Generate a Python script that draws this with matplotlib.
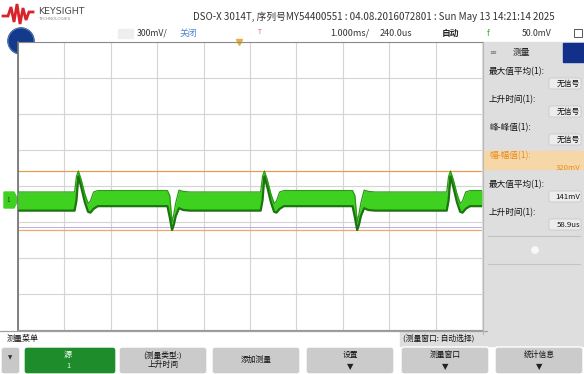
import numpy as np
import matplotlib
matplotlib.use("Agg")
import matplotlib.pyplot as plt
from matplotlib.patches import Circle, FancyBboxPatch, Rectangle, Polygon

plt.rcParams["font.family"] = ["Noto Sans CJK SC", "DejaVu Sans"]

# ─── SCOPE SETTINGS ──────────────────────────────────────────────────────────
TIME_PER_DIV_MS = 1.0
VOLT_PER_DIV_MV = 300.0
N_XDIV, N_YDIV = 10, 8

# ─── CHANNEL 1 TRACE (persistence envelope) ─────────────────────────────────
T_MS = [0.00, 1.22, 1.26, 1.30, 1.36, 1.44, 1.51, 1.56, 1.63, 1.72,
        3.22, 3.27, 3.32, 3.36, 3.40, 3.47, 3.56, 3.70,
        5.23, 5.27, 5.31, 5.37, 5.45, 5.52, 5.57, 5.64, 5.73,
        7.21, 7.26, 7.31, 7.35, 7.39, 7.46, 7.55, 7.69,
        9.24, 9.28, 9.32, 9.38, 9.46, 9.53, 9.58, 9.65, 9.74,
        10.00]
V_UPPER_MV = [-50, -50, 80, 125, 55, -65, -145, -125, -50, -38,
              -38, -80, -300, -230, -140, -35, -45, -50,
              -50, 80, 125, 55, -65, -145, -125, -50, -38,
              -38, -80, -300, -230, -140, -35, -45, -50,
              -50, 80, 125, 55, -65, -145, -125, -50, -38,
              -38]
V_LOWER_MV = [-205, -205, -120, 80, -5, -135, -215, -222, -190, -168,
              -168, -260, -367, -320, -250, -185, -200, -205,
              -205, -120, 80, -5, -135, -215, -222, -190, -168,
              -168, -260, -367, -320, -250, -185, -200, -205,
              -205, -120, 80, -5, -135, -215, -222, -190, -168,
              -168]

# ─── MEASUREMENT PANEL TEXT ─────────────────────────────────────────────────
MEAS_LABELS = ["最大值平均(1):", "上升时间(1):", "峰-峰值(1):",
               "幅-幅值(1):", "最大值平均(1):", "上升时间(1):"]
MEAS_VALUES = ["无信号", "无信号", "无信号", "320mV", "141mV", "58.9us"]
SOFTKEYS = ["(测量类型:)\n上升时间", "添加测量", "设置", "测量窗口", "统计信息"]

W, H = 584, 374
fig = plt.figure(figsize=(W / 100, H / 100), dpi=100)
fig.patch.set_facecolor("white")

# decoration layer in pixel coordinates
deco = fig.add_axes([0, 0, 1, 1])
deco.set_xlim(0, W)
deco.set_ylim(H, 0)
deco.axis("off")

# ─── GRATICULE ──────────────────────────────────────────────────────────────
gx0, gx1, gy0, gy1 = 18, 482, 42, 330
ax = fig.add_axes([gx0 / W, 1 - gy1 / H, (gx1 - gx0) / W, (gy1 - gy0) / H])
ax.set_zorder(2)
ax.set_xlim(0, N_XDIV * TIME_PER_DIV_MS)
half = N_YDIV / 2 * VOLT_PER_DIV_MV
ax.set_ylim(-half, half)
ax.set_xticks(np.arange(0, N_XDIV + 1) * TIME_PER_DIV_MS)
ax.set_yticks(np.arange(-N_YDIV / 2, N_YDIV / 2 + 1) * VOLT_PER_DIV_MV)
ax.grid(True, color="#d4d4d4", lw=0.8)
ax.set_axisbelow(True)
ax.tick_params(length=0, labelleft=False, labelbottom=False)
ax.spines["right"].set_visible(False)
ax.spines["left"].set_color("#6e6e6e")
ax.spines["left"].set_linewidth(1.2)
ax.spines["top"].set_color("#8a8a8a")
ax.spines["bottom"].set_color("#9a9a9a")

# measurement markers at the trace extremes
v_max, v_min = max(V_UPPER_MV), min(V_LOWER_MV)
ax.axhline(v_max, color="#e0a050", lw=0.9, zorder=1.5)
ax.axhline(v_min + 25, color="#b8b0e0", lw=0.7, zorder=1.5)
ax.axhline(v_min, color="#eda870", lw=0.9, zorder=1.5)

ax.fill_between(T_MS, V_LOWER_MV, V_UPPER_MV, color="#3fd11f", lw=0, zorder=3)
ax.plot(T_MS, V_UPPER_MV, color="#2a9a16", lw=0.9, zorder=3)
ax.plot(T_MS, V_LOWER_MV, color="#1c7410", lw=1.6, zorder=3)

# trigger position marker
ax.plot([5.0 - 0.24], [half], marker="v", color="#e8b040", ms=5, clip_on=False)

# ─── HEADER ─────────────────────────────────────────────────────────────────
logo_x = [3, 8, 11, 14, 17, 20, 23, 26, 29, 33]
logo_y = [16, 16, 7, 22, 4, 24, 8, 20, 12, 12]
deco.plot(logo_x, logo_y, color="#d8232a", lw=2.0, solid_joinstyle="miter")
deco.text(38, 11, "KEYSIGHT", fontsize=6.8, color="#4a4a4a", va="center",
          family="DejaVu Sans")
deco.text(38, 19, "TECHNOLOGIES", fontsize=3.0, color="#8a8a8a", va="center",
          family="DejaVu Sans")
deco.text(193, 17, "DSO-X 3014T, 序列号MY54400551 : 04.08.2016072801 : Sun May 13 14:21:14 2025",
          fontsize=7.0, color="#333333", va="center")

deco.add_patch(Rectangle((118, 29), 15, 9, color="#eeeeee"))
deco.text(137, 33, "300mV/", fontsize=6.3, color="#333333", va="center")
deco.text(180, 33, "关闭", fontsize=6.3, color="#4d7fd0", va="center")
deco.text(260, 32, "T", fontsize=4.5, color="#e05080", va="center", ha="center")
deco.text(330, 33, "1.000ms/", fontsize=6.5, color="#333333", va="center")
deco.text(380, 33, "240.0us", fontsize=6.5, color="#333333", va="center")
deco.text(442, 33, "自动", fontsize=6.3, color="#222222", va="center",
          fontweight="bold")
deco.text(487, 33, "f", fontsize=6.3, color="#3ba83b", va="center")
deco.text(522, 33, "50.0mV", fontsize=6.3, color="#333333", va="center")
deco.add_patch(Rectangle((574, 29), 8, 8, fill=False, ec="#555555", lw=0.7))

deco.add_patch(Circle((21, 41), 13, color="#143a8c", zorder=5))
deco.add_patch(Circle((21, 41), 13, fill=False, ec="#5577bb", lw=0.8, zorder=6))

# channel 1 ground marker
deco.add_patch(Polygon([[4, 192], [14, 192], [18, 200], [14, 208], [4, 208]],
                       closed=True, color="#3fd11f"))
deco.text(8, 200, "1", fontsize=4.5, color="#114411", va="center", ha="center")

deco.plot([0, 487], [331, 331], color="#a0a0a0", lw=0.9)

# ─── MEASUREMENT PANEL ──────────────────────────────────────────────────────
deco.add_patch(Rectangle((482, 42), 102, 292, color="#dedede"))
deco.plot([483, 483], [42, 334], color="#b8b8b8", lw=0.8)
deco.add_patch(Rectangle((563, 43), 21, 19, color="#12308a"))
deco.text(489, 52, "≡", fontsize=6, color="#777777", va="center",
          family="DejaVu Sans")
deco.text(513, 52, "测量", fontsize=6.3, color="#222222", va="center")

row_y = [72, 100, 128, 156, 185, 213]
for i, (lab, val) in enumerate(zip(MEAS_LABELS, MEAS_VALUES)):
    y = row_y[i]
    hot = i == 3
    if hot:
        deco.add_patch(Rectangle((483, y - 5), 101, 18, color="#f6d8a8"))
    col = "#e88a20" if hot else "#111111"
    deco.text(489, y, lab, fontsize=6.2, color=col, va="center")
    if not hot:
        deco.add_patch(FancyBboxPatch((549, y + 6), 32, 11,
                                      boxstyle="round,pad=0,rounding_size=2",
                                      fc="#ececec", ec="#c4c4c4", lw=0.5))
    deco.text(580, y + 11.5, val, fontsize=5.6, color=col, va="center", ha="right")

deco.plot([488, 580], [236, 236], color="#c2c2c2", lw=0.8)
deco.plot([488, 580], [264, 264], color="#c2c2c2", lw=0.8)
deco.add_patch(Circle((535, 250), 3.2, color="#f8f8f8"))

# ─── SOFTKEY BAR ────────────────────────────────────────────────────────────
deco.add_patch(Rectangle((400, 331), 184, 15, color="#dedede"))
deco.text(7, 338, "测量菜单", fontsize=5.8, color="#111111", va="center")
deco.text(403, 338, "(测量窗口: 自动选择)", fontsize=5.6, color="#111111", va="center")

deco.add_patch(FancyBboxPatch((1, 347), 19, 27, boxstyle="round,pad=0,rounding_size=3",
                              fc="#c8c8c8", ec="white", lw=1))
deco.text(10, 358, "▼", fontsize=4, color="#333333", ha="center", va="center",
          family="DejaVu Sans")
deco.add_patch(FancyBboxPatch((24, 347), 92, 27, boxstyle="round,pad=0,rounding_size=3",
                              fc="#1f8c2c", ec="white", lw=1))
deco.text(68, 354, "源", fontsize=5.8, color="white", ha="center", va="center")
deco.text(68, 366, "1", fontsize=5.4, color="#ccffcc", ha="center", va="center")

key_x = [119, 212, 306, 401, 495]
for i, (kx, txt) in enumerate(zip(key_x, SOFTKEYS)):
    deco.add_patch(FancyBboxPatch((kx, 347), 88, 27,
                                  boxstyle="round,pad=0,rounding_size=3",
                                  fc="#cbcbcb", ec="white", lw=1))
    has_arrow = i >= 2
    ty = 355 if has_arrow else 360
    deco.text(kx + 44, ty, txt, fontsize=5.6, color="#111111", ha="center",
              va="center", linespacing=1.2)
    if has_arrow:
        deco.text(kx + 44, 367, "▼", fontsize=6, color="#222222", ha="center",
                  va="center", family="DejaVu Sans")

fig.savefig("out.png", dpi=100)
